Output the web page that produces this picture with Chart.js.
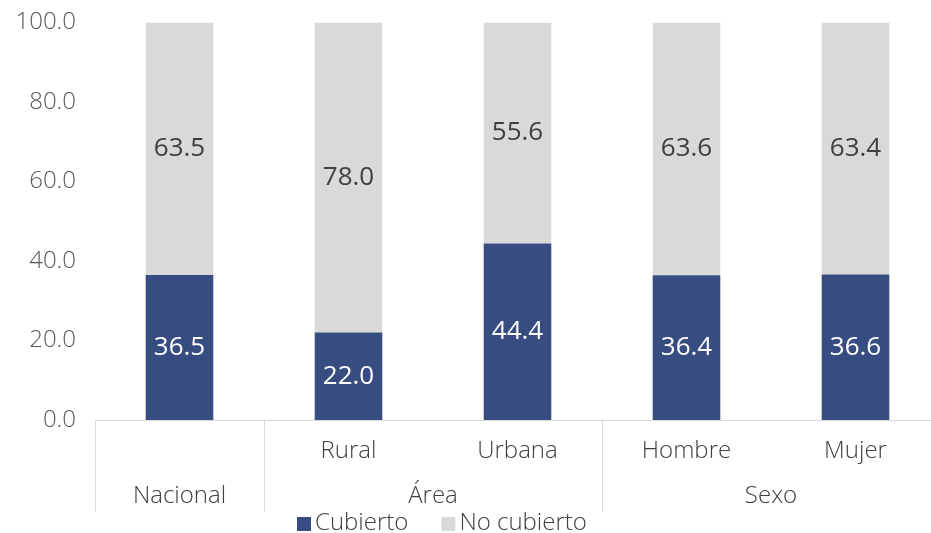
<!DOCTYPE html>
<html><head><meta charset="utf-8">
<script src="https://cdn.jsdelivr.net/npm/chart.js@4/dist/chart.umd.min.js"></script>
<style>
html,body{margin:0;padding:0;overflow:hidden;background:#fff;}
#wrap{width:945px;height:533px;}
</style></head>
<body><div id="wrap"><canvas id="c" width="945" height="533"></canvas></div>
<script>
const categories = ['Nacional', 'Rural', 'Urbana', 'Hombre', 'Mujer'];
const subLabels = ['', 'Rural', 'Urbana', 'Hombre', 'Mujer'];
const groups = [{label: 'Nacional', from: 0, to: 0}, {label: 'Área', from: 1, to: 2}, {label: 'Sexo', from: 3, to: 4}];
const cubierto = [36.5, 22.0, 44.4, 36.4, 36.6];
const noCubierto = [63.5, 78.0, 55.6, 63.6, 63.4];
const seriesNames = ['Cubierto', 'No cubierto'];
const yTicks = [0, 20, 40, 60, 80, 100];

const FONT = "'Open Sans', sans-serif";
const BLUE = '#374C80', GREY = '#D9D9D9';

const customPlugin = {
  id: 'custom',
  afterDatasetsDraw(chart) {
    const ctx = chart.ctx;
    ctx.save();
    ctx.textAlign = 'center';
    ctx.textBaseline = 'middle';
    ctx.font = "400 26px " + FONT;
    chart.data.datasets.forEach((ds, di) => {
      const meta = chart.getDatasetMeta(di);
      meta.data.forEach((bar, i) => {
        const y = (bar.y + bar.base) / 2;
        ctx.fillStyle = di === 0 ? '#ffffff' : '#404040';
        ctx.fillText(ds.data[i].toFixed(1), bar.x, y);
      });
    });
    ctx.restore();
  },
  afterDraw(chart) {
    const ctx = chart.ctx;
    const xs = chart.scales.x;
    const area = chart.chartArea;
    const step = xs.getPixelForValue(1) - xs.getPixelForValue(0);
    ctx.save();
    ctx.strokeStyle = '#D9D9D9';
    ctx.lineWidth = 1;
    const sepBottom = 512;
    const seps = [xs.getPixelForValue(0) - step / 2, xs.getPixelForValue(1) - step / 2, xs.getPixelForValue(3) - step / 2];
    seps.forEach(x => {
      const px = Math.round(x) + 0.5;
      ctx.beginPath(); ctx.moveTo(px, area.bottom); ctx.lineTo(px, sepBottom); ctx.stroke();
    });
    ctx.fillStyle = '#404040';
    ctx.font = "300 24px " + FONT;
    ctx.textAlign = 'center';
    ctx.textBaseline = 'middle';
    subLabels.forEach((l, i) => { if (l) ctx.fillText(l, xs.getPixelForValue(i), 451); });
    groups.forEach(g => {
      const x = (xs.getPixelForValue(g.from) + xs.getPixelForValue(g.to)) / 2;
      ctx.fillText(g.label, x, 496);
    });
    // legend
    ctx.textAlign = 'left';
    ctx.font = "300 24px " + FONT;
    let lx = 297;
    const ly = 523;
    [BLUE, GREY].forEach((c, i) => {
      ctx.fillStyle = c;
      ctx.fillRect(lx, ly - 6, 14, 14);
      lx += 18;
      ctx.fillStyle = '#404040';
      ctx.fillText(seriesNames[i], lx, ly);
      lx += ctx.measureText(seriesNames[i]).width + 33;
    });
    ctx.restore();
  }
};

new Chart(document.getElementById('c'), {
  type: 'bar',
  data: {
    labels: categories,
    datasets: [
      {label: seriesNames[0], data: cubierto, backgroundColor: BLUE, barPercentage: 0.4, categoryPercentage: 1},
      {label: seriesNames[1], data: noCubierto, backgroundColor: GREY, barPercentage: 0.4, categoryPercentage: 1}
    ]
  },
  options: {
    responsive: false,
    animation: false,
    layout: {padding: {top: 0, right: 5, left: 0, bottom: 0}},
    plugins: {legend: {display: false}, tooltip: {enabled: false}},
    scales: {
      x: {
        stacked: true,
        grid: {display: false},
        border: {display: true, color: '#D9D9D9'},
        ticks: {display: false},
        afterFit(s) { s.height = 113; }
      },
      y: {
        stacked: true,
        min: 0, max: 100,
        afterBuildTicks(s) { s.ticks = yTicks.map(v => ({value: v})); },
        grid: {display: false},
        border: {display: false},
        ticks: {
          padding: 11,
          color: '#595959',
          font: {family: FONT, size: 24, weight: 300, lineHeight: 0.95},
          callback: v => Number(v).toFixed(1)
        },
        afterFit(s) { s.width = 95; }
      }
    }
  },
  plugins: [customPlugin]
});
</script></body></html>
